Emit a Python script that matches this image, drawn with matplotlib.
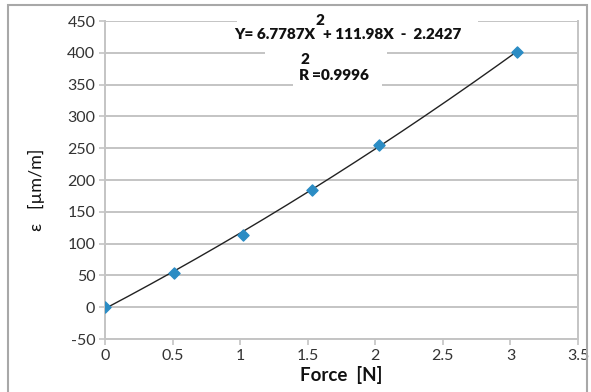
import numpy as np
import matplotlib
matplotlib.use('Agg')
import matplotlib.pyplot as plt
from matplotlib.patches import Rectangle

# --- measured strain vs applied force
force = [0.0, 0.51, 1.02, 1.53, 2.03, 3.05]
strain = [0.0, 53.0, 113.0, 185.0, 255.0, 401.0]

# quadratic trendline (a*x^2 + b*x + c) and its R^2
fitCoefs = [6.7787, 111.98, -2.2427]
rSquared = 0.9996

xTicks = [0, 0.5, 1, 1.5, 2, 2.5, 3, 3.5]
xTickLabels = ['0', '0.5', '1', '1.5', '2', '2.5', '3', '3.5']
yTicks = [-50, 0, 50, 100, 150, 200, 250, 300, 350, 400, 450]

plt.rcParams['font.family'] = ['Lato', 'DejaVu Sans']
plt.rcParams['axes.unicode_minus'] = False
gridColor = '#c4c4c4'

fig = plt.figure(figsize=(5.91, 3.92), dpi=100)
ax = fig.add_axes([0.1777, 0.1352, 0.8003, 0.8112])

ax.set_xlim(0, 3.5)
ax.set_ylim(-50, 450)
ax.set_xticks(xTicks)
ax.set_xticklabels(xTickLabels)
ax.set_yticks(yTicks)
ax.tick_params(labelsize=11.5, colors='#333333', length=4, width=1.2, pad=3)
ax.tick_params(axis='both', color=gridColor)

ax.grid(axis='y', color=gridColor, linewidth=1.4, zorder=1)
ax.set_axisbelow(True)
for side in ['left', 'bottom', 'right']:
    ax.spines[side].set_color(gridColor)
    ax.spines[side].set_linewidth(1.4)
ax.spines['top'].set_visible(False)

# white boxes behind the equation texts (hide the grid lines)
for (x0, x1, y0, y1) in [(0.977, 2.760, 413, 470), (1.184, 2.087, 385, 413), (1.391, 2.050, 333, 385)]:
    ax.add_patch(Rectangle((x0, y0), x1 - x0, y1 - y0, facecolor='white',
                           edgecolor='none', zorder=2, clip_on=False))

# trendline
xFit = np.linspace(0, force[-1], 200)
yFit = np.polyval(fitCoefs, xFit)
ax.plot(xFit, yFit, color='#222222', linewidth=1.0, zorder=3)

ax.scatter(force, strain, marker='D', s=32, color='#2b8cc4', zorder=4)

# equation of the trendline
eqKw = dict(fontsize=11, fontweight='heavy', color='#111111', zorder=5)
ax.text(1.554, 429, 'Y= %.4fX' % fitCoefs[0], ha='right', va='center', **eqKw)
ax.text(1.591, 451, '2', ha='center', va='center', clip_on=False, **eqKw)
ax.text(1.613, 429, '+ %.2fX  -  %.4f' % (fitCoefs[1], -fitCoefs[2]), ha='left', va='center', **eqKw)
ax.text(1.471, 364, 'R', ha='center', va='center', **eqKw)
ax.text(1.482, 389, '2', ha='center', va='center', **eqKw)
ax.text(1.532, 364, '=%.4f' % rSquared, ha='left', va='center', **eqKw)

ax.set_xlabel('Force  [N]', fontsize=13.5, fontweight='bold', color='#111111', labelpad=2)
fig.text(0.062, 0.515, 'ε   [µm/m]', rotation=90, fontsize=13, color='#111111',
         ha='center', va='center')

# chart frame
fig.patches.append(Rectangle((8 / 591, -0.02), 579 / 591, 1.0 - 5 / 392 + 0.02,
                             transform=fig.transFigure, fill=False,
                             edgecolor='#a8a8a8', linewidth=1.5))

fig.savefig('out.png', dpi=100)
